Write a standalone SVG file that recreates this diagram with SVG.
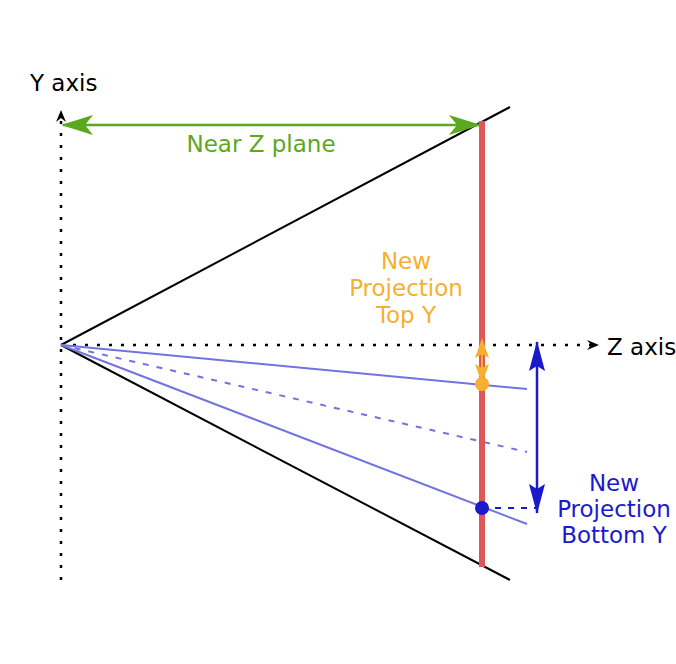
<svg xmlns="http://www.w3.org/2000/svg" width="676" height="664" viewBox="0 0 676 664">
<style>
text{font-family:"DejaVu Sans","Noto Sans",sans-serif;font-size:23px}
.ax{stroke:#000;stroke-width:2.5;stroke-dasharray:3,9;fill:none}
.fr{stroke:#000;stroke-width:2;fill:none}
.bl{stroke:#7272e0;stroke-width:2;fill:none}
</style>
<defs>
<marker id="ak" markerWidth="12" markerHeight="10" refX="10" refY="5" orient="auto" markerUnits="userSpaceOnUse"><path d="M0,0 L12,5 L0,10 L4,5 Z" fill="#000"/></marker>
<marker id="ag" markerWidth="32" markerHeight="20" refX="30" refY="10" orient="auto-start-reverse" markerUnits="userSpaceOnUse"><path d="M0,0 L32,10 L0,20 L8,10 Z" fill="#5aa820"/></marker>
<marker id="ab" markerWidth="30" markerHeight="16" refX="29" refY="8" orient="auto-start-reverse" markerUnits="userSpaceOnUse"><path d="M0,0 L30,8 L0,16 L5,8 Z" fill="#1a1acc"/></marker>
<marker id="ao" markerWidth="20" markerHeight="14" refX="18" refY="7" orient="auto-start-reverse" markerUnits="userSpaceOnUse"><path d="M0,0 L20,7 L0,14 L4,7 Z" fill="#f5b030"/></marker>
</defs>
<g id="connectors">
<line class="ax" x1="61" y1="580" x2="61" y2="112" marker-end="url(#ak)"/>
<line class="ax" x1="61" y1="345" x2="597" y2="345" marker-end="url(#ak)"/>
<line class="fr" x1="61" y1="345" x2="510" y2="107"/>
<line class="fr" x1="61" y1="345" x2="510" y2="580"/>
<line class="bl" x1="61" y1="345" x2="527" y2="389"/>
<line class="bl" x1="61" y1="345" x2="527" y2="452" stroke-dasharray="6,8"/>
<line class="bl" x1="61" y1="345" x2="527" y2="524"/>
<line x1="482" y1="121" x2="482" y2="567" stroke="#e05555" stroke-width="6"/>
<line x1="63" y1="125" x2="479" y2="125" stroke="#5aa820" stroke-width="2.5" marker-start="url(#ag)" marker-end="url(#ag)"/>
<line x1="482" y1="340" x2="482" y2="382" stroke="#f5b030" stroke-width="2" marker-start="url(#ao)" marker-end="url(#ao)"/>
<line x1="537" y1="342" x2="537" y2="513" stroke="#1a1acc" stroke-width="2.5" marker-start="url(#ab)" marker-end="url(#ab)"/>
<line x1="482" y1="508" x2="537" y2="508" stroke="#1a1acc" stroke-width="2" stroke-dasharray="6,7"/>
</g>
<g id="top-dot"><circle cx="482" cy="384" r="7" fill="#f5b030"/></g>
<g id="bottom-dot"><circle cx="482" cy="508" r="7" fill="#1a1acc"/></g>
<g id="labels">
<text x="30" y="91">Y axis</text>
<text x="607" y="355">Z axis</text>
<text x="261" y="152" fill="#5aa820" text-anchor="middle">Near Z plane</text>
<g fill="#f5b030" text-anchor="middle"><text x="406" y="269">New</text><text x="406" y="296">Projection</text><text x="406" y="323">Top Y</text></g>
<g fill="#1a1acc" text-anchor="middle"><text x="614" y="491">New</text><text x="614" y="517">Projection</text><text x="614" y="543">Bottom Y</text></g>
</g>
</svg>
